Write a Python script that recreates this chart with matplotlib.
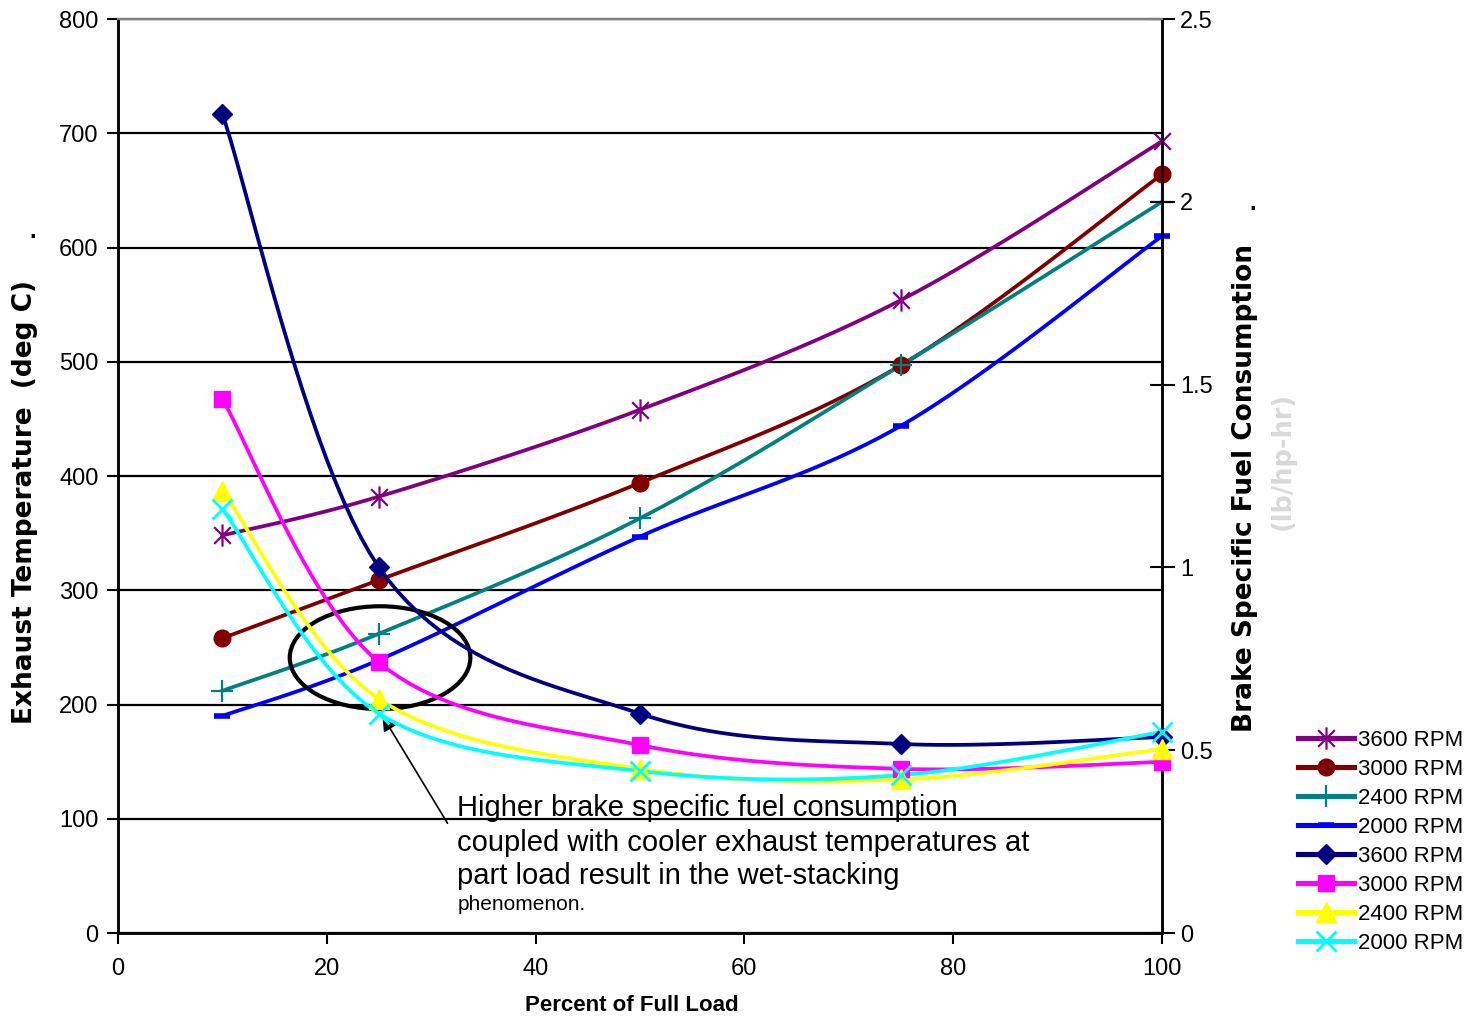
import numpy as np
import matplotlib.pyplot as plt
from matplotlib.patches import Ellipse
from matplotlib.path import Path

plt.rcParams['font.family'] = ['Liberation Sans', 'DejaVu Sans']

# percent of full load
load = [10, 25, 50, 75, 100]

# exhaust temperature (deg C)
temp_3600 = [348, 382, 458, 554, 693]
temp_3000 = [258, 309, 394, 497, 664]
temp_2400 = [212, 262, 363, 497, 640]
temp_2000 = [190, 239, 347, 444, 610]

# brake specific fuel consumption (lb/hp-hr)
bsfc_3600 = [2.24, 1.00, 0.60, 0.517, 0.536]
bsfc_3000 = [1.46, 0.74, 0.514, 0.449, 0.468]
bsfc_2400 = [1.21, 0.64, 0.449, 0.42, 0.503]
bsfc_2000 = [1.16, 0.60, 0.443, 0.432, 0.55]

labels = ['3600 RPM', '3000 RPM', '2400 RPM', '2000 RPM']


def smooth(xs, ys, sx, sy, n=24):
    # bezier smoothing like a spreadsheet "smoothed line", done in pixel space
    pts = np.column_stack([np.asarray(xs, float) * sx, np.asarray(ys, float) * sy])
    out = [pts[0]]
    t = np.linspace(0, 1, n)[1:, None]
    for i in range(len(pts) - 1):
        p0 = pts[i - 1] if i > 0 else pts[i]
        p1, p2 = pts[i], pts[i + 1]
        p3 = pts[i + 2] if i + 2 < len(pts) else pts[i + 1]
        c1 = p1 + (p2 - p0) / 6
        c2 = p2 - (p3 - p1) / 6
        seg = (1 - t) ** 3 * p1 + 3 * (1 - t) ** 2 * t * c1 + 3 * (1 - t) * t ** 2 * c2 + t ** 3 * p2
        out.extend(seg)
    out = np.array(out)
    return out[:, 0] / sx, out[:, 1] / sy


# star marker: an X with a vertical bar through it
d = 0.75
star = Path([(0, -1), (0, 1), (-d, -d), (d, d), (-d, d), (d, -d)],
            [Path.MOVETO, Path.LINETO] * 3)

fig = plt.figure(figsize=(14.84, 10.21), dpi=100)
ax = fig.add_axes([118 / 1484, 1 - 933 / 1021, 1044 / 1484, 914 / 1021])
ax2 = ax.twinx()

sx = 1044 / 100
sy_t = 914 / 800
sy_b = 914 / 2.5
lw = 2.7

temp_styles = [
    (temp_3600, '#800080', dict(marker=star, ms=16, mew=1.6, fillstyle='none')),
    (temp_3000, '#800000', dict(marker='o', ms=12)),
    (temp_2400, '#008080', dict(marker='+', ms=16, mew=1.6)),
    (temp_2000, '#0000FF', dict(marker='_', ms=11, mew=4)),
]
bsfc_styles = [
    (bsfc_3600, '#000080', dict(marker='D', ms=10)),
    (bsfc_3000, '#FF00FF', dict(marker='s', ms=12)),
    (bsfc_2400, '#FFFF00', dict(marker='^', ms=14)),
    (bsfc_2000, '#00FFFF', dict(marker='x', ms=14, mew=2)),
]

handles = []
for (vals, c, mk), lab in zip(temp_styles, labels):
    xs, ys = smooth(load, vals, sx, sy_t)
    ax.plot(xs, ys, color=c, lw=lw, clip_on=False, zorder=3)
    ax.plot(load, vals, ls='none', color=c, mec=c, mfc=c, clip_on=False, zorder=4, **mk)
    h, = ax.plot([], [], color=c, lw=lw + 1, mec=c, mfc=c, **mk)
    handles.append(h)

for (vals, c, mk), lab in zip(bsfc_styles, labels):
    xs, ys = smooth(load, vals, sx, sy_b)
    ax2.plot(xs, ys, color=c, lw=lw, clip_on=False, zorder=3)
    ax2.plot(load, vals, ls='none', color=c, mec=c, mfc=c, clip_on=False, zorder=4, **mk)
    h, = ax2.plot([], [], color=c, lw=lw + 1, mec=c, mfc=c, **mk)
    handles.append(h)

ax.set_xlim(0, 100)
ax.set_ylim(0, 800)
ax2.set_ylim(0, 2.5)
ax.set_xticks([0, 20, 40, 60, 80, 100])
ax.set_yticks(range(0, 801, 100))
ax2.set_yticks([0, 0.5, 1, 1.5, 2, 2.5])
ax2.set_yticklabels(['0', '0.5', '1', '1.5', '2', '2.5'])

ax.set_axisbelow(True)
ax.yaxis.grid(True, color='black', lw=1.6)
for a in (ax, ax2):
    a.spines['top'].set_color('#808080')
    a.spines['top'].set_linewidth(1.6)
    for s in ('left', 'right', 'bottom'):
        a.spines[s].set_linewidth(1.8)
ax.tick_params(axis='both', labelsize=17, length=8, width=1.5, direction='out', pad=6)
ax.tick_params(axis='x', pad=10)
ax2.tick_params(axis='y', labelsize=17, length=18, width=1.5, direction='inout', pad=4)

fig.text(632 / 1484, 1 - 1005 / 1021, 'Percent of Full Load', ha='center', va='center',
         fontsize=16, fontweight='bold')
fig.text(25 / 1484, 1 - 502 / 1021, 'Exhaust Temperature  (deg C)', rotation=90,
         ha='center', va='center', fontsize=19, fontweight='bold', family='DejaVu Sans')
fig.text(33 / 1484, 1 - 232 / 1021, '.', ha='center', va='center', fontsize=17, fontweight='bold')
fig.text(1245 / 1484, 1 - 488 / 1021, 'Brake Specific Fuel Consumption', rotation=90,
         ha='center', va='center', fontsize=19, fontweight='bold', family='DejaVu Sans')
fig.text(1253 / 1484, 1 - 203 / 1021, '.', ha='center', va='center', fontsize=17, fontweight='bold')
fig.text(1283 / 1484, 1 - 461 / 1021, '(lb/hp-hr)', rotation=90, color='#d9d9d9',
         ha='center', va='center', fontsize=18.5, fontweight='bold', family='DejaVu Sans')

# wet-stacking region
ax.add_patch(Ellipse((25.1, 241), 17.3, 90, fill=False, ec='black', lw=3, zorder=5))
ax.annotate('', xy=(25.2, 192), xytext=(31.7, 94),
            arrowprops=dict(arrowstyle='-|>', color='black', lw=1.2, mutation_scale=22), zorder=5)
note_lines = ['Higher brake specific fuel consumption',
              'coupled with cooler exhaust temperatures at',
              'part load result in the wet-stacking']
for yv, line in zip([109.5, 79, 50], note_lines):
    ax.text(32.5, yv, line, fontsize=21, va='center', ha='left', zorder=6)
ax.text(32.5, 25, 'phenomenon.', fontsize=15, va='center', ha='left', zorder=6)

fig.legend(handles, labels * 2, loc='upper left', bbox_to_anchor=(1298 / 1484, 1 - 730 / 1021),
           frameon=False, fontsize=16, handlelength=2.5, handletextpad=0.2,
           labelspacing=0.36, borderpad=0, borderaxespad=0)

fig.savefig('out.png', dpi=100)
